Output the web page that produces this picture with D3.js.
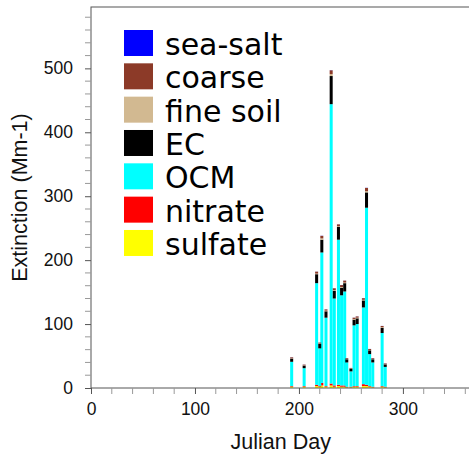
<!DOCTYPE html>
<html><head><meta charset="utf-8">
<script src="https://cdn.jsdelivr.net/npm/d3@7"></script>
<style>html,body{margin:0;padding:0;background:#fff;}svg{display:block;}</style>
</head><body>
<script>
// ---- data ----
const days     = [193, 205, 217, 220, 222, 226, 231, 234, 238, 241, 244, 246, 250, 253, 256, 262, 265, 268, 271, 280, 283];
const sulfate  = [2, 2, 3, 2, 4, 2, 4, 2, 3, 2, 2, 1, 1, 2, 2, 3, 3, 2, 1, 2, 1];
const nitrate  = [1, 1, 2, 1, 4, 1, 3, 2, 2, 2, 2, 1, 1, 1, 1, 3, 2, 1, 1, 1, 1];
const OCM      = [38, 28, 159, 59, 204, 107, 437, 136, 227, 141, 147, 38, 24, 95, 97, 120, 277, 50, 38, 83, 31];
const EC       = [5, 4, 14, 7, 20, 10, 44, 12, 20, 12, 13, 5, 4, 9, 9, 11, 24, 6, 5, 8, 4];
const fineSoil = [0.5, 0.4, 1, 0.5, 2, 1, 3, 1, 1, 1, 1, 0.4, 0.3, 1, 1, 1, 2, 0.5, 0.4, 1, 0.4];
const coarse   = [1.5, 1.2, 3, 1.5, 4, 2, 6, 3, 3, 3, 3, 1.2, 1, 2, 2, 2.5, 5, 1.5, 1.2, 2, 1];
const seaSalt  = [0.1, 0.1, 0.1, 0.1, 0.2, 0.1, 0.2, 0.1, 0.1, 0.1, 0.1, 0.1, 0.1, 0.1, 0.1, 0.1, 0.2, 0.1, 0.1, 0.1, 0.1];

const legendNames = ["sea-salt", "coarse", "fine soil", "EC", "OCM", "nitrate", "sulfate"];
const colors = {"sea-salt":"#0000ff","coarse":"#8c3a28","fine soil":"#d2b991","EC":"#000000","OCM":"#00ffff","nitrate":"#ff0000","sulfate":"#ffff00"};
const stackOrder = ["sulfate","nitrate","OCM","EC","fine soil","coarse","sea-salt"];
const xTicks = [0, 100, 200, 300];
const yTicks = [0, 100, 200, 300, 400, 500];
const xLabel = "Julian Day";
const yLabel = "Extinction (Mm-1)";

const series = {"sulfate":sulfate,"nitrate":nitrate,"OCM":OCM,"EC":EC,"fine soil":fineSoil,"coarse":coarse,"sea-salt":seaSalt};
const table = days.map((d,i)=>{const o={day:d}; stackOrder.forEach(k=>o[k]=series[k][i]); return o;});

// ---- layout ----
const W = 469, H = 456;
const svg = d3.select("body").append("svg").attr("width", W).attr("height", H);

const x = d3.scaleLinear().domain([0, 365]).range([91, 470.5]);
const y = d3.scaleLinear().domain([0, 596]).range([388, 7]);

const stack = d3.stack().keys(stackOrder)(table);
const bw = x(2.9) - x(0);

svg.append("g").selectAll("g").data(stack).join("g")
  .attr("fill", d => colors[d.key])
  .selectAll("rect").data(d => d).join("rect")
  .attr("x", d => x(d.data.day) - bw/2)
  .attr("width", bw)
  .attr("y", d => y(d[1]))
  .attr("height", d => Math.max(0, y(d[0]) - y(d[1])));

// frame
const axisCol = "#555";
svg.append("rect").attr("x", x(0)).attr("y", y(596)).attr("width", x(365)-x(0)).attr("height", y(0)-y(596))
  .attr("fill","none").attr("stroke", axisCol).attr("stroke-width",1);

// minor ticks
const xMinor = d3.range(0, 366, 20).filter(v => v % 100 !== 0);
svg.append("g").selectAll("line").data(xMinor).join("line")
  .attr("x1", d=>x(d)).attr("x2", d=>x(d)).attr("y1", y(0)).attr("y2", y(0)+6)
  .attr("stroke", "#999").attr("stroke-width", 1);
const yMinor = d3.range(0, 597, 20).filter(v => v % 100 !== 0);
svg.append("g").selectAll("line").data(yMinor).join("line")
  .attr("y1", d=>y(d)).attr("y2", d=>y(d)).attr("x1", x(0)-6).attr("x2", x(0))
  .attr("stroke", "#999").attr("stroke-width", 1);

// axes
const xAxis = svg.append("g").attr("transform", `translate(0,${y(0)})`)
  .call(d3.axisBottom(x).tickValues(xTicks).tickSize(6).tickPadding(9).tickFormat(d3.format("d")));
const yAxis = svg.append("g").attr("transform", `translate(${x(0)},0)`)
  .call(d3.axisLeft(y).tickValues(yTicks).tickSize(6).tickPadding(12).tickFormat(d3.format("d")));
[xAxis, yAxis].forEach(a => {
  a.select(".domain").remove();
  a.selectAll(".tick line").attr("stroke", axisCol);
  a.selectAll("text").attr("fill", "#111").style("font-family", "'Liberation Sans', Arial, sans-serif").style("font-size", "17.5px");
});

svg.append("text").attr("x", (x(0)+x(365))/2).attr("y", 449).attr("text-anchor","middle")
  .style("font-family","'Liberation Sans', Arial, sans-serif").style("font-size","21.5px").attr("fill","#111").text(xLabel);
svg.append("text").attr("transform", `translate(27,${(y(0)+y(596))/2}) rotate(-90)`).attr("text-anchor","middle")
  .style("font-family","'Liberation Sans', Arial, sans-serif").style("font-size","21.5px").attr("fill","#111").text(yLabel);

// legend
const lg = svg.append("g").selectAll("g").data(legendNames).join("g")
  .attr("transform", (d,i) => `translate(124,${30 + i*33.33})`);
lg.append("rect").attr("width", 29).attr("height", 26).attr("fill", d => colors[d]);
lg.append("text").attr("x", 41).attr("y", 25)
  .style("font-family","'DejaVu Sans', Verdana, sans-serif").style("font-size","30px").attr("fill","#000").text(d => d);
</script>
</body></html>
